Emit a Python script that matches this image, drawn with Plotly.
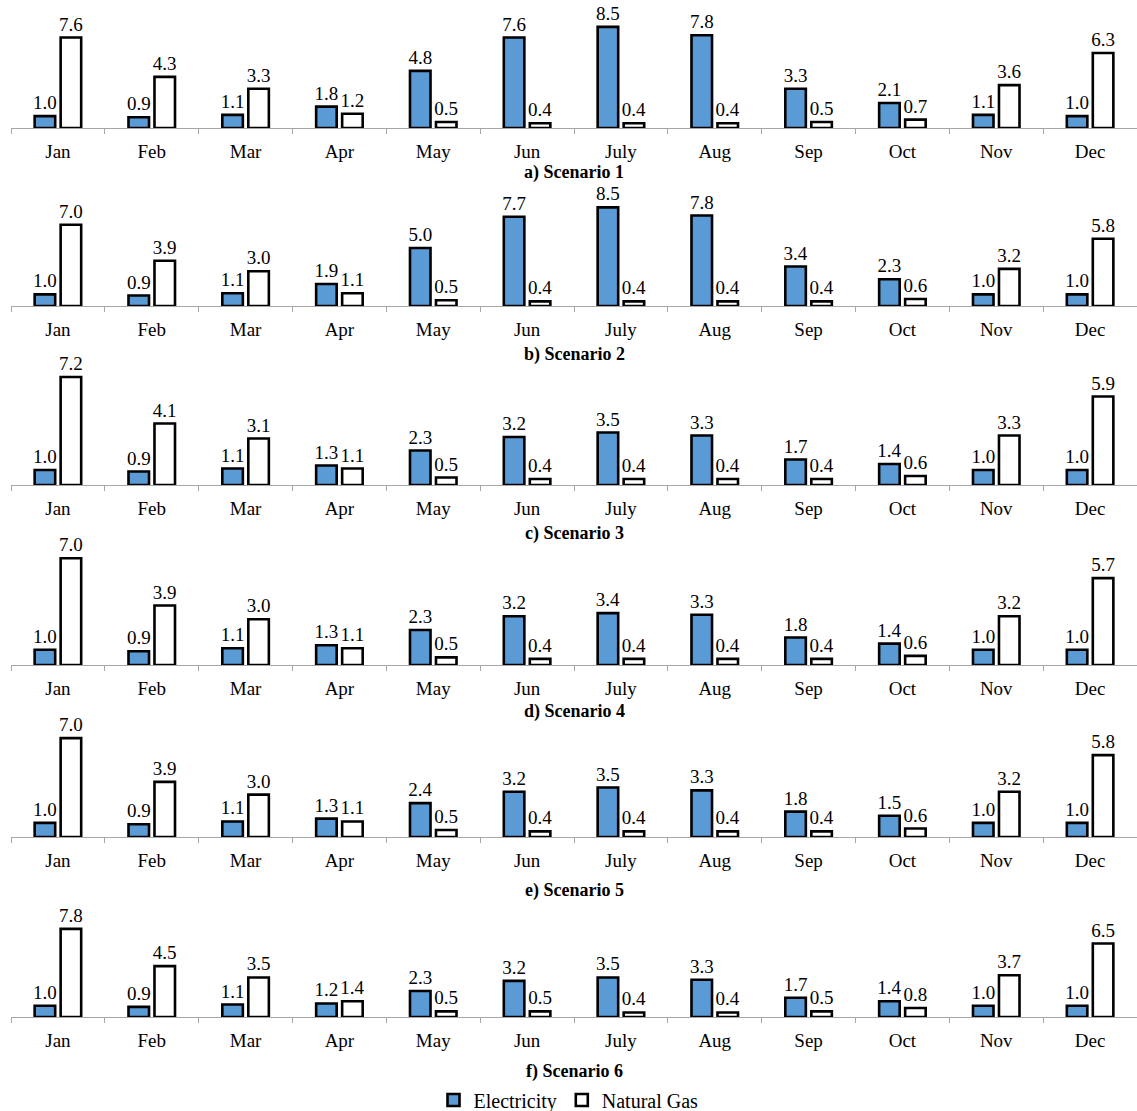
import plotly.graph_objects as go

months = ["Jan", "Feb", "Mar", "Apr", "May", "Jun", "July", "Aug", "Sep", "Oct", "Nov", "Dec"]
titles = ["a) Scenario 1", "b) Scenario 2", "c) Scenario 3", "d) Scenario 4", "e) Scenario 5", "f) Scenario 6"]

elec_s1 = [1.0, 0.9, 1.1, 1.8, 4.8, 7.6, 8.5, 7.8, 3.3, 2.1, 1.1, 1.0]
gas_s1 = [7.6, 4.3, 3.3, 1.2, 0.5, 0.4, 0.4, 0.4, 0.5, 0.7, 3.6, 6.3]
elec_s2 = [1.0, 0.9, 1.1, 1.9, 5.0, 7.7, 8.5, 7.8, 3.4, 2.3, 1.0, 1.0]
gas_s2 = [7.0, 3.9, 3.0, 1.1, 0.5, 0.4, 0.4, 0.4, 0.4, 0.6, 3.2, 5.8]
elec_s3 = [1.0, 0.9, 1.1, 1.3, 2.3, 3.2, 3.5, 3.3, 1.7, 1.4, 1.0, 1.0]
gas_s3 = [7.2, 4.1, 3.1, 1.1, 0.5, 0.4, 0.4, 0.4, 0.4, 0.6, 3.3, 5.9]
elec_s4 = [1.0, 0.9, 1.1, 1.3, 2.3, 3.2, 3.4, 3.3, 1.8, 1.4, 1.0, 1.0]
gas_s4 = [7.0, 3.9, 3.0, 1.1, 0.5, 0.4, 0.4, 0.4, 0.4, 0.6, 3.2, 5.7]
elec_s5 = [1.0, 0.9, 1.1, 1.3, 2.4, 3.2, 3.5, 3.3, 1.8, 1.5, 1.0, 1.0]
gas_s5 = [7.0, 3.9, 3.0, 1.1, 0.5, 0.4, 0.4, 0.4, 0.4, 0.6, 3.2, 5.8]
elec_s6 = [1.0, 0.9, 1.1, 1.2, 2.3, 3.2, 3.5, 3.3, 1.7, 1.4, 1.0, 1.0]
gas_s6 = [7.8, 4.5, 3.5, 1.4, 0.5, 0.5, 0.4, 0.4, 0.5, 0.8, 3.7, 6.5]

elec = [elec_s1, elec_s2, elec_s3, elec_s4, elec_s5, elec_s6]
gas = [gas_s1, gas_s2, gas_s3, gas_s4, gas_s5, gas_s6]

W, H = 1137, 1111
# panel geometry in pixels: baseline y, top y, y-axis max, title y
panels = [
    (128, 9, 10, 173),
    (306, 190, 10, 354),
    (485, 365, 8, 533),
    (665, 543, 8, 711),
    (837, 724, 8, 890),
    (1017, 904, 10, 1071),
]

FONT = "Liberation Serif, Times New Roman, serif"
BLUE = "#5B9BD5"

fig = go.Figure()
annotations = []
for i in range(6):
    ax = "" if i == 0 else str(i + 1)
    base, top, ymax, ty = panels[i]
    fig.add_trace(go.Bar(
        x=months, y=elec[i], name="Electricity",
        marker=dict(color=BLUE, line=dict(color="black", width=2.6)),
        text=[f"{v:.1f}" for v in elec[i]], textposition="outside",
        textfont=dict(family=FONT, size=19, color="black"),
        cliponaxis=False, constraintext="none",
        xaxis="x" + ax, yaxis="y" + ax, showlegend=(i == 0), legendgroup="e",
    ))
    fig.add_trace(go.Bar(
        x=months, y=gas[i], name="Natural Gas",
        marker=dict(color="white", line=dict(color="black", width=2.6)),
        text=[f"{v:.1f}" for v in gas[i]], textposition="outside",
        textfont=dict(family=FONT, size=19, color="black"),
        cliponaxis=False, constraintext="none",
        xaxis="x" + ax, yaxis="y" + ax, showlegend=(i == 0), legendgroup="g",
    ))
    fig.update_layout(**{
        "xaxis" + ax: dict(
            domain=[11 / W, 1.0], anchor="y" + ax, type="category",
            showline=True, linecolor="#A6A6A6", linewidth=1,
            ticks="outside", ticklen=5, tickcolor="#A6A6A6", tickson="boundaries",
            tickfont=dict(family=FONT, size=19, color="black"),
            ticklabelstandoff=6, showgrid=False, zeroline=False, fixedrange=True,
        ),
        "yaxis" + ax: dict(
            domain=[1 - base / H, 1 - top / H], anchor="x" + ax,
            range=[0, ymax], visible=False, showgrid=False, zeroline=False,
        ),
    })
    annotations.append(dict(
        text="<b>" + titles[i] + "</b>", x=574 / W, y=1 - ty / H,
        xref="paper", yref="paper", showarrow=False,
        xanchor="center", yanchor="middle",
        font=dict(family=FONT, size=18, color="black"),
    ))

fig.update_layout(
    width=W, height=H, margin=dict(l=0, r=0, t=0, b=0, autoexpand=False),
    font=dict(family=FONT, color="black"),
    paper_bgcolor="white", plot_bgcolor="white",
    barmode="group", bargap=0.446, bargroupgap=0.21,
    annotations=annotations,
    legend=dict(orientation="h", x=0.5, xanchor="center", y=1 - 1100 / H, yanchor="middle",
                font=dict(family=FONT, size=20, color="black"),
                itemwidth=30, tracegroupgap=0, bgcolor="rgba(0,0,0,0)"),
    showlegend=True,
)

fig.write_html("out.html", config={"displayModeBar": False},
               post_script="document.body.style.margin='0px';document.body.style.overflow='hidden';")
